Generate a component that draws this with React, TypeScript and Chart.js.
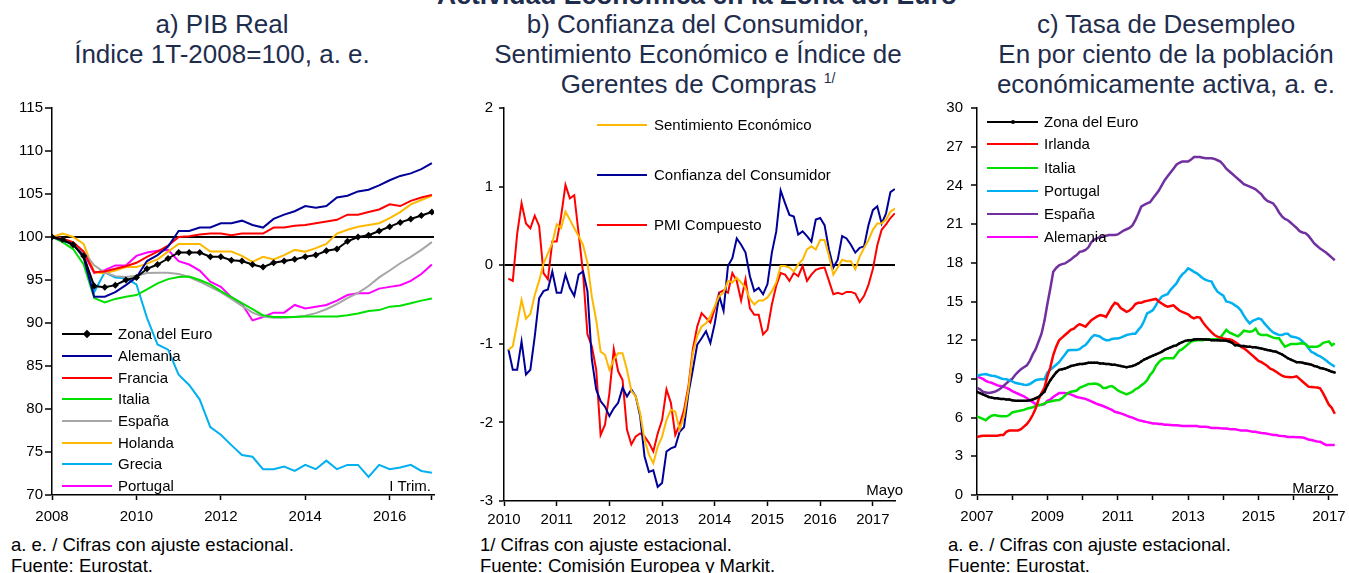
import React, { useEffect, useRef } from "react";
import { Chart, registerables } from "chart.js";
Chart.register(...registerables);

const FONT = "'Liberation Sans', Arial, Helvetica, sans-serif";
const TITLE_COLOR = "#1f2d4d";

// ---------------- Panel a: PIB Real (quarterly, 2008T1..2017T1) ----------------
const pibStartYear = 2008;
const pibEuro = [100, 99.7, 99.1, 97.8, 94.3, 94.15, 94.4, 95.0, 95.3, 96.3, 96.8, 97.5, 98.2, 98.2, 98.2, 97.7, 97.7, 97.3, 97.2, 96.8, 96.5, 97.0, 97.2, 97.4, 97.7, 97.9, 98.4, 98.6, 99.5, 100.0, 100.2, 100.7, 101.2, 101.7, 102.1, 102.5, 102.9];
const pibAlemania = [100, 99.6, 99.2, 97.6, 93.05, 93.05, 93.6, 94.4, 95.3, 97.2, 97.9, 98.9, 100.7, 100.7, 101.1, 101.1, 101.6, 101.6, 101.9, 101.4, 101.1, 102.1, 102.6, 103.0, 103.6, 103.4, 103.6, 104.6, 104.8, 105.3, 105.5, 106.0, 106.6, 107.1, 107.4, 107.9, 108.6];
const pibFrancia = [100, 99.8, 99.4, 98.3, 95.9, 96.0, 96.3, 96.6, 97.0, 97.7, 98.3, 99.0, 100.0, 100.1, 100.3, 100.4, 100.4, 100.2, 100.4, 100.4, 100.4, 101.1, 101.1, 101.3, 101.4, 101.6, 101.8, 102.0, 102.6, 102.6, 102.9, 103.2, 103.8, 103.6, 104.2, 104.6, 104.9];
const pibItalia = [100, 99.4, 98.6, 96.8, 92.9, 92.4, 92.8, 93.05, 93.25, 93.9, 94.6, 95.1, 95.35, 95.4, 95.0, 94.5, 93.7, 93.0, 92.3, 91.6, 90.9, 90.7, 90.7, 90.7, 90.75, 90.75, 90.75, 90.75, 90.9, 91.1, 91.4, 91.5, 91.9, 92.0, 92.3, 92.6, 92.85];
const pibEspana = [100, 99.9, 99.3, 98.3, 96.7, 95.85, 95.45, 95.35, 95.5, 95.8, 95.85, 95.85, 95.7, 95.35, 94.8, 94.2, 93.6, 92.8, 92.0, 91.2, 90.75, 90.6, 90.6, 90.7, 90.85, 91.15, 91.6, 92.2, 92.9, 93.5, 94.3, 95.3, 96.1, 96.95, 97.7, 98.5, 99.4];
const pibHolanda = [100, 100.4, 100.0, 99.2, 95.9, 95.8, 96.1, 96.5, 96.5, 96.9, 97.4, 98.3, 99.2, 99.2, 99.2, 98.3, 98.3, 98.3, 97.8, 97.1, 97.7, 97.4, 97.9, 98.5, 98.3, 98.7, 99.2, 100.4, 100.85, 101.2, 101.4, 101.6, 102.2, 102.9, 103.8, 104.3, 104.8];
const pibGrecia = [100, 99.6, 99.1, 97.9, 93.6, 95.9, 95.3, 95.2, 94.5, 90.6, 87.5, 86.9, 84.0, 82.8, 81.1, 77.9, 77.0, 75.8, 74.65, 74.45, 73.0, 73.0, 73.3, 72.8, 73.5, 73.0, 74.0, 73.0, 73.5, 73.5, 72.1, 73.5, 73.0, 73.2, 73.5, 72.8, 72.6];
const pibPortugal = [100, 99.6, 99.2, 98.1, 95.8, 96.15, 96.7, 96.7, 97.8, 98.2, 98.4, 98.5, 97.2, 96.8, 96.1, 94.8, 94.2, 93.0, 92.2, 90.3, 90.7, 91.2, 91.2, 92.1, 91.7, 91.9, 92.1, 92.6, 93.25, 93.45, 93.45, 94.0, 94.2, 94.4, 94.9, 95.7, 96.8];
const pibYTicks = [70, 75, 80, 85, 90, 95, 100, 105, 110, 115];
const pibXTicks = [2008, 2010, 2012, 2014, 2016, 2017];
const pibXLabels = ["2008", "2010", "2012", "2014", "2016", ""];

// ---------------- Panel b: confidence indices (monthly, Jan 2010..May 2017) ----------------
const confStartYear = 2010;
const confSentimiento = [
  -1.08, -1.03, -0.74, -0.44, -0.68, -0.62, -0.38, -0.2, 0.02, 0.15, 0.28, 0.52,
  0.47, 0.68, 0.58, 0.47, 0.37, 0.26, 0.03, -0.4, -0.7, -1.1, -1.14, -1.33,
  -1.2, -1.12, -1.12, -1.33, -1.6, -1.67, -1.88, -2.22, -2.41, -2.52, -2.31, -2.18,
  -1.97, -1.84, -1.86, -2.09, -1.92, -1.58, -1.12, -0.9, -0.78, -0.74, -0.65, -0.52,
  -0.39, -0.35, -0.2, -0.22, -0.16, -0.22, -0.29, -0.43, -0.5, -0.45, -0.45, -0.41,
  -0.33, -0.22, -0.01, -0.01, -0.03, -0.08, 0.01, 0.07, 0.2, 0.24, 0.2, 0.32,
  0.32, 0.12, -0.12, -0.03, 0.07, 0.05, 0.05, -0.05, 0.11, 0.22, 0.32, 0.45,
  0.53, 0.53, 0.58, 0.68, 0.72,
];
const confConsumidor = [
  -1.07, -1.33, -1.33, -0.97, -1.39, -1.33, -0.91, -0.42, -0.33, -0.31, -0.08, -0.35,
  -0.35, -0.12, -0.29, -0.39, -0.12, -0.08, -0.33, -1.2, -1.58, -1.73, -1.8, -1.92,
  -1.82, -1.75, -1.56, -1.67, -1.58, -1.67, -1.92, -2.43, -2.63, -2.61, -2.82, -2.77,
  -2.37, -2.33, -2.31, -2.12, -2.06, -1.63, -1.33, -1.01, -0.93, -0.84, -0.99, -0.74,
  -0.39, -0.58, -0.01, 0.09, 0.34, 0.26, 0.16, -0.14, -0.33, -0.29, -0.37, -0.24,
  0.16, 0.43, 0.95, 0.79, 0.64, 0.62, 0.39, 0.43, 0.37, 0.3, 0.58, 0.6,
  0.51, 0.2, -0.03, 0.07, 0.37, 0.34, 0.26, 0.16, 0.22, 0.24, 0.51, 0.7,
  0.75, 0.53, 0.66, 0.93, 0.97,
];
const confPMI = [
  -0.17, -0.2, 0.4, 0.79, 0.53, 0.47, 0.63, 0.5, -0.1, -0.18, 0.3, 0.3,
  0.62, 1.02, 0.85, 0.89, 0.4, -0.1, -0.88, -1.03, -1.33, -2.16, -2.03, -1.63,
  -1.07, -1.35, -1.46, -2.09, -2.28, -2.18, -2.14, -2.18, -2.26, -2.37, -2.14, -1.97,
  -1.58, -1.75, -2.16, -2.03, -1.84, -1.54, -1.07, -0.78, -0.61, -0.67, -0.73, -0.55,
  -0.35, -0.32, -0.35, -0.1, -0.2, -0.45, -0.18, -0.55, -0.63, -0.63, -0.88, -0.82,
  -0.5, -0.26, -0.1, -0.12, -0.2, -0.1, -0.14, -0.01, -0.2, -0.12, -0.06, -0.04,
  -0.03, -0.2, -0.37, -0.35, -0.37, -0.34, -0.34, -0.36, -0.47, -0.39, -0.25, -0.05,
  0.25, 0.45, 0.52, 0.6, 0.66,
];
const confYTicks = [-3, -2, -1, 0, 1, 2];
const confXTicks = [2010, 2011, 2012, 2013, 2014, 2015, 2016, 2017];
const confXLabels = ["2010", "2011", "2012", "2013", "2014", "2015", "2016", "2017"];

// ---------------- Panel c: unemployment (monthly, Jan 2007..Mar 2017) ----------------
const unempStartYear = 2007;
const unempEuro = [
  8.0, 7.9, 7.8, 7.7, 7.6, 7.55, 7.5, 7.5, 7.45, 7.45, 7.4, 7.4,
  7.35, 7.3, 7.3, 7.3, 7.3, 7.3, 7.35, 7.4, 7.5, 7.6, 7.8, 8.0,
  8.5, 8.9, 9.2, 9.5, 9.7, 9.75, 9.8, 9.9, 10.0, 10.05, 10.1, 10.15,
  10.15, 10.2, 10.25, 10.25, 10.25, 10.25, 10.2, 10.2, 10.15, 10.15, 10.1, 10.1,
  10.05, 10.0, 9.95, 9.9, 9.95, 10.0, 10.08, 10.2, 10.35, 10.5, 10.6, 10.7,
  10.8, 10.9, 11.0, 11.1, 11.25, 11.35, 11.45, 11.55, 11.6, 11.75, 11.85, 11.95,
  12.0, 12.0, 12.05, 12.07, 12.07, 12.07, 12.05, 12.05, 12.0, 12.0, 12.0, 11.98,
  11.98, 11.96, 11.9, 11.8, 11.6, 11.6, 11.55, 11.55, 11.5, 11.5, 11.45, 11.45,
  11.4, 11.35, 11.3, 11.24, 11.2, 11.15, 11.1, 11.0, 10.9, 10.75, 10.6, 10.5,
  10.4, 10.3, 10.3, 10.25, 10.2, 10.15, 10.1, 10.0, 9.95, 9.85, 9.8, 9.74,
  9.65, 9.55, 9.5,
];
const unempIrlanda = [
  4.5, 4.55, 4.6, 4.6, 4.6, 4.6, 4.6, 4.6, 4.65, 4.65, 4.9, 5.0,
  5.0, 5.0, 5.0, 5.1, 5.3, 5.5, 5.8, 6.2, 6.7, 7.4, 7.9, 8.3,
  9.2, 9.9, 10.85, 11.5, 12.0, 12.2, 12.4, 12.6, 12.8, 12.9, 13.1, 13.25,
  13.15, 13.05, 13.3, 13.55, 13.7, 13.85, 13.95, 13.9, 13.8, 14.2, 14.6, 14.9,
  14.8, 14.5, 14.35, 14.2, 14.3, 14.5, 14.8, 14.9, 14.9, 15.0, 15.05, 15.1,
  15.15, 15.2, 15.0, 14.85, 14.7, 14.6, 14.65, 14.7, 14.5, 14.3, 14.2, 14.1,
  14.0, 13.8, 13.7, 13.8, 13.75, 13.4, 13.1, 12.85, 12.6, 12.4, 12.27, 12.2,
  12.14, 12.1, 12.07, 12.0, 11.85, 11.7, 11.5, 11.37, 11.2, 11.0, 10.8, 10.6,
  10.4, 10.3, 10.15, 10.0, 9.8, 9.7, 9.56, 9.4, 9.25, 9.17, 9.15, 9.12,
  9.15, 9.2, 9.0, 8.8, 8.6, 8.4, 8.38, 8.35, 8.33, 8.27, 7.9, 7.45,
  7.0, 6.75, 6.3,
];
const unempItalia = [
  6.1, 6.0, 5.9, 5.8, 6.0, 6.15, 6.2, 6.15, 6.1, 6.1, 6.1, 6.2,
  6.4, 6.45, 6.5, 6.55, 6.6, 6.7, 6.75, 6.8, 6.9, 6.95, 7.0, 7.1,
  7.2, 7.25, 7.3, 7.35, 7.36, 7.5, 7.7, 7.9, 8.0, 8.05, 8.1, 8.3,
  8.4, 8.5, 8.6, 8.6, 8.65, 8.6, 8.5, 8.3, 8.3, 8.4, 8.45, 8.3,
  8.1, 8.0, 7.9, 7.8, 7.9, 8.0, 8.2, 8.3, 8.5, 8.65, 8.9, 9.3,
  9.56, 10.0, 10.3, 10.5, 10.6, 10.6, 10.6, 10.6, 10.9, 11.2, 11.3, 11.5,
  11.7, 11.9, 11.96, 12.0, 12.0, 12.0, 12.05, 12.05, 12.07, 12.07, 12.1, 12.2,
  12.5, 12.8, 12.6, 12.5, 12.4, 12.3, 12.5, 12.74, 12.7, 12.66, 12.7, 12.9,
  12.5, 12.4, 12.4, 12.4, 12.3, 12.2, 12.15, 12.15, 11.8, 11.5, 11.6, 11.7,
  11.7, 11.7, 11.75, 11.76, 11.7, 11.5, 11.5, 11.5, 11.5, 11.6, 11.8, 11.85,
  11.9, 11.6, 11.76,
];
const unempPortugal = [
  9.22, 9.3, 9.35, 9.38, 9.3, 9.25, 9.22, 9.15, 9.05, 9.0, 8.97, 8.9,
  8.8, 8.7, 8.65, 8.6, 8.55, 8.53, 8.6, 8.75, 8.9, 8.95, 8.97, 8.97,
  9.5, 9.7, 9.9, 10.1, 10.3, 10.6, 10.9, 11.2, 11.24, 11.24, 11.24, 11.3,
  11.5, 11.63, 11.9, 12.2, 12.4, 12.35, 12.27, 12.1, 12.0, 12.0, 12.1, 12.14,
  12.14, 12.2, 12.3, 12.4, 12.45, 12.5, 12.5, 12.8, 13.05, 13.5, 14.08, 14.2,
  14.34, 14.7, 15.1, 15.37, 15.5, 15.56, 15.9, 16.15, 16.4, 16.8, 17.1, 17.3,
  17.57, 17.45, 17.3, 17.18, 17.0, 16.8, 16.67, 16.6, 16.54, 16.1, 15.76, 15.6,
  15.45, 15.0, 14.95, 14.86, 14.7, 14.55, 14.3, 13.9, 13.57, 13.3, 13.5, 13.6,
  13.7, 13.6, 13.3, 13.05, 12.8, 12.6, 12.5, 12.4, 12.4, 12.5, 12.5, 12.3,
  12.25, 12.2, 12.1, 11.9, 11.7, 11.4, 11.1, 11.0, 10.85, 10.75, 10.6, 10.45,
  10.25, 10.1, 9.95,
];
const unempEspana = [
  8.3, 8.2, 8.0, 7.95, 7.9, 7.95, 8.0, 8.1, 8.25, 8.45, 8.65, 8.85,
  9.0, 9.3, 9.55, 9.75, 9.9, 10.05, 10.4, 10.9, 11.3, 11.9, 12.5, 13.5,
  14.8, 16.0, 17.3, 17.6, 17.8, 17.9, 17.95, 18.1, 18.25, 18.45, 18.6, 18.85,
  18.9, 19.0, 19.2, 19.6, 19.8, 19.9, 20.0, 20.05, 20.1, 20.15, 20.15, 20.15,
  20.2, 20.35, 20.5, 20.6, 20.7, 20.9, 21.3, 21.8, 22.35, 22.5, 22.6, 22.7,
  23.0, 23.3, 23.6, 24.0, 24.4, 24.7, 25.0, 25.3, 25.6, 25.75, 25.85, 25.85,
  25.85, 26.0, 26.2, 26.2, 26.2, 26.15, 26.1, 26.1, 26.1, 26.05, 25.95, 25.85,
  25.6, 25.3, 25.1, 24.9, 24.7, 24.5, 24.3, 24.1, 24.0, 23.9, 23.8, 23.7,
  23.5, 23.3, 23.0, 22.8, 22.7, 22.6, 22.3, 21.9, 21.6, 21.4, 21.3, 21.1,
  20.9, 20.7, 20.45, 20.35, 20.3, 20.1, 19.8, 19.5, 19.3, 19.1, 18.95, 18.8,
  18.6, 18.4, 18.2,
];
const unempAlemania = [
  9.2, 9.1, 9.0, 8.85, 8.75, 8.7, 8.6, 8.5, 8.45, 8.4, 8.3, 8.2,
  8.05, 7.95, 7.85, 7.75, 7.65, 7.5, 7.35, 7.2, 7.05, 6.98, 7.0, 7.05,
  7.3, 7.4, 7.6, 7.75, 7.9, 7.9, 7.9, 7.85, 7.8, 7.7, 7.6, 7.55,
  7.5, 7.45, 7.36, 7.25, 7.15, 7.05, 6.98, 6.9, 6.8, 6.7, 6.6, 6.45,
  6.4, 6.33, 6.25, 6.15, 6.07, 6.0, 5.9, 5.8, 5.75, 5.7, 5.65, 5.6,
  5.55, 5.55, 5.5, 5.5, 5.45, 5.45, 5.43, 5.4, 5.4, 5.38, 5.35, 5.35,
  5.35, 5.35, 5.35, 5.35, 5.3, 5.3, 5.3, 5.25, 5.2, 5.2, 5.2, 5.17,
  5.15, 5.15, 5.12, 5.1, 5.1, 5.05, 5.0, 5.0, 5.0, 4.95, 4.9, 4.9,
  4.85, 4.8, 4.78, 4.75, 4.7, 4.65, 4.65, 4.6, 4.57, 4.55, 4.5, 4.5,
  4.5, 4.48, 4.47, 4.45, 4.4, 4.3, 4.26, 4.2, 4.15, 4.13, 4.0, 3.88,
  3.88, 3.88, 3.88,
];
const unempYTicks = [0, 3, 6, 9, 12, 15, 18, 21, 24, 27, 30];
const unempXTicks = [2007, 2008, 2009, 2010, 2011, 2012, 2013, 2014, 2015, 2016, 2017];
const unempXLabels = ["2007", "", "2009", "", "2011", "", "2013", "", "2015", "", "2017"];

// ---------------- helpers ----------------
const quarterly = (start: number, n: number) => Array.from({ length: n }, (_, i) => start + i / 4);
const monthly = (start: number, n: number, off: number) => Array.from({ length: n }, (_, i) => start + (i + off) / 12);

type Series = { label: string; data: number[]; color: string; width: number; marker?: string; markerSize?: number };

type PanelSpec = {
  xs: number[];
  series: Series[];
  xMin: number; xMax: number; yMin: number; yMax: number;
  xTicks: number[]; xLabels: string[]; yTicks: number[];
  refLine?: number;
  yAxisWidth: number; xAxisHeight: number; padRight: number; padTop: number;
  xTickPad: number; yTickPad: number; xTickLen: number; yTickLen: number;
};

function makeConfig(p: PanelSpec): any {
  const tickFont = { family: FONT, size: 15 };
  return {
    type: "line",
    data: {
      datasets: p.series.map((s) => ({
        label: s.label,
        data: p.xs.map((x, i) => ({ x, y: s.data[i] })),
        borderColor: s.color,
        backgroundColor: s.color,
        borderWidth: s.width,
        pointRadius: s.marker ? s.markerSize : 0,
        pointStyle: s.marker || "circle",
        pointBorderWidth: 0,
        pointBackgroundColor: s.color,
        tension: 0,
        fill: false,
      })),
    },
    options: {
      responsive: false,
      animation: false,
      devicePixelRatio: 1,
      layout: { padding: { left: 0, right: p.padRight, top: p.padTop, bottom: 0 } },
      plugins: { legend: { display: false }, tooltip: { enabled: false }, title: { display: false } },
      scales: {
        x: {
          type: "linear",
          min: p.xMin,
          max: p.xMax,
          afterBuildTicks: (s: any) => { s.ticks = p.xTicks.map((v) => ({ value: v })); },
          afterFit: (s: any) => { s.height = p.xAxisHeight; s.paddingLeft = 0; s.paddingRight = 0; },
          ticks: {
            autoSkip: false, maxRotation: 0, minRotation: 0, padding: p.xTickPad, color: "#000", font: tickFont,
            callback: (v: number) => { const k = p.xTicks.indexOf(v); return k >= 0 ? p.xLabels[k] : ""; },
          },
          grid: { drawOnChartArea: false, drawTicks: true, tickLength: p.xTickLen, tickColor: "#000", tickWidth: 1.5, color: "#000" },
          border: { display: true, color: "#000", width: 1.5 },
        },
        y: {
          type: "linear",
          min: p.yMin,
          max: p.yMax,
          afterBuildTicks: (s: any) => { s.ticks = p.yTicks.map((v) => ({ value: v })); },
          afterFit: (s: any) => { s.width = p.yAxisWidth; s.paddingTop = 0; s.paddingBottom = 0; },
          ticks: { padding: p.yTickPad, color: "#000", font: tickFont, callback: (v: number) => String(v) },
          grid: {
            drawOnChartArea: true, drawTicks: true, tickLength: p.yTickLen, tickColor: "#000", tickWidth: 1.5,
            color: (ctx: any) => (ctx.tick && p.refLine !== undefined && ctx.tick.value === p.refLine ? "#000" : "rgba(0,0,0,0)"),
            lineWidth: (ctx: any) => (ctx.tick && p.refLine !== undefined && ctx.tick.value === p.refLine ? 2 : 0),
          },
          border: { display: true, color: "#000", width: 1.5 },
        },
      },
    },
  };
}

function ChartCanvas({ spec, left, top, width, height }: { spec: PanelSpec; left: number; top: number; width: number; height: number }) {
  const ref = useRef<HTMLCanvasElement>(null);
  useEffect(() => {
    const chart = new Chart(ref.current as HTMLCanvasElement, makeConfig(spec));
    return () => chart.destroy();
  }, []);
  return (
    <canvas ref={ref} width={width} height={height}
      style={{ position: "absolute", left, top, width, height }} />
  );
}

type LegendItem = { label: string; color: string; width: number; marker?: "diamond" | "dot" };

function Legend({ items, lineX, lineW, textX, ys }: { items: LegendItem[]; lineX: number; lineW: number; textX: number; ys: number[] }) {
  return (
    <>
      {items.map((it, i) => (
        <React.Fragment key={it.label}>
          <div style={{ position: "absolute", left: lineX, top: ys[i] - it.width / 2, width: lineW, height: it.width, background: it.color }} />
          {it.marker === "diamond" && (
            <div style={{ position: "absolute", left: lineX + lineW / 2 - 3, top: ys[i] - 3, width: 6, height: 6, background: it.color, transform: "rotate(45deg)" }} />
          )}
          {it.marker === "dot" && (
            <div style={{ position: "absolute", left: lineX + lineW / 2 - 2, top: ys[i] - 2, width: 4, height: 4, background: it.color, borderRadius: 2 }} />
          )}
          <div style={{ position: "absolute", left: textX, top: ys[i] - 9, lineHeight: "18px", fontSize: 15, color: "#000", whiteSpace: "nowrap" }}>{it.label}</div>
        </React.Fragment>
      ))}
    </>
  );
}

function Text({ x, y, children, size = 15, align = "left", color = "#000" }: any) {
  const style: any = { position: "absolute", top: y - size * 0.6, lineHeight: `${size * 1.2}px`, fontSize: size, color, whiteSpace: "nowrap" };
  if (align === "right") style.right = 1349 - x; else style.left = x;
  return <div style={style}>{children}</div>;
}

const C_EURO = "#000000";
const C_DE = "#000099";
const C_FR = "#ff0000";
const C_IT = "#00e000";
const C_ES_GRAY = "#a6a6a6";
const C_NL = "#ffb800";
const C_GR = "#00b0f0";
const C_PT = "#ff00ff";
const C_ES_PURPLE = "#7030a0";

export default function App() {
  const specA: PanelSpec = {
    xs: quarterly(pibStartYear, pibEuro.length),
    series: [
      { label: "Zona del Euro", data: pibEuro, color: C_EURO, width: 2, marker: "rectRot", markerSize: 3.5 },
      { label: "Alemania", data: pibAlemania, color: C_DE, width: 2 },
      { label: "Francia", data: pibFrancia, color: C_FR, width: 2 },
      { label: "Italia", data: pibItalia, color: C_IT, width: 2 },
      { label: "España", data: pibEspana, color: C_ES_GRAY, width: 2 },
      { label: "Holanda", data: pibHolanda, color: C_NL, width: 2 },
      { label: "Grecia", data: pibGrecia, color: C_GR, width: 2 },
      { label: "Portugal", data: pibPortugal, color: C_PT, width: 2 },
    ],
    xMin: 2008, xMax: 2017.05, yMin: 70, yMax: 115,
    xTicks: pibXTicks, xLabels: pibXLabels, yTicks: pibYTicks, refLine: 100,
    yAxisWidth: 52, xAxisHeight: 30, padRight: 11, padTop: 10,
    xTickPad: 8, yTickPad: 2, xTickLen: 5, yTickLen: 7,
  };
  const specB: PanelSpec = {
    xs: monthly(confStartYear, confPMI.length, 1),
    series: [
      { label: "Sentimiento Económico", data: confSentimiento, color: C_NL, width: 2 },
      { label: "Confianza del Consumidor", data: confConsumidor, color: C_DE, width: 2 },
      { label: "PMI Compuesto", data: confPMI, color: C_FR, width: 2 },
    ],
    xMin: 2010, xMax: 2017.42, yMin: -3, yMax: 2,
    xTicks: confXTicks, xLabels: confXLabels, yTicks: confYTicks, refLine: 0,
    yAxisWidth: 44, xAxisHeight: 29, padRight: 15, padTop: 10,
    xTickPad: 5, yTickPad: 6, xTickLen: 5, yTickLen: 5,
  };
  const specC: PanelSpec = {
    xs: monthly(unempStartYear, unempEuro.length, 0),
    series: [
      { label: "Zona del Euro", data: unempEuro, color: C_EURO, width: 2.5, marker: "circle", markerSize: 1.2 },
      { label: "Irlanda", data: unempIrlanda, color: C_FR, width: 2.5 },
      { label: "Italia", data: unempItalia, color: C_IT, width: 2.5 },
      { label: "Portugal", data: unempPortugal, color: C_GR, width: 2.5 },
      { label: "España", data: unempEspana, color: C_ES_PURPLE, width: 2.5 },
      { label: "Alemania", data: unempAlemania, color: C_PT, width: 2.5 },
    ],
    xMin: 2007, xMax: 2017.23, yMin: 0, yMax: 30,
    xTicks: unempXTicks, xLabels: unempXLabels, yTicks: unempYTicks,
    yAxisWidth: 52, xAxisHeight: 30, padRight: 12, padTop: 10,
    xTickPad: 8, yTickPad: 8, xTickLen: 5, yTickLen: 6,
  };

  const titleStyle: any = { position: "absolute", top: 9, fontSize: 26, lineHeight: "30px", color: TITLE_COLOR, textAlign: "center", whiteSpace: "nowrap" };

  return (
    <div style={{ position: "absolute", left: 0, top: 0, width: 1349, height: 573, overflow: "hidden", background: "#fff", fontFamily: FONT }}>
      <div style={{ position: "absolute", left: 297, width: 800, top: -20, fontSize: 26.5, lineHeight: "30px", fontWeight: "bold", color: TITLE_COLOR, textAlign: "center", whiteSpace: "nowrap" }}>
        Actividad Económica en la Zona del Euro
      </div>
      <div style={{ ...titleStyle, left: 2, width: 440 }}>
        a) PIB Real<br />Índice 1T-2008=100, a. e.
      </div>
      <div style={{ ...titleStyle, left: 478, width: 440 }}>
        b) Confianza del Consumidor,<br />Sentimiento Económico e Índice de<br />Gerentes de Compras <span style={{ fontSize: 14, position: "relative", top: -10 }}>1/</span>
      </div>
      <div style={{ ...titleStyle, left: 946, width: 440 }}>
        c) Tasa de Desempleo<br />En por ciento de la población<br />económicamente activa, a. e.
      </div>

      <ChartCanvas spec={specA} left={0} top={98} width={445} height={427} />
      <ChartCanvas spec={specB} left={460} top={98} width={450} height={432} />
      <ChartCanvas spec={specC} left={925} top={98} width={424} height={427} />

      <Legend
        items={[
          { label: "Zona del Euro", color: C_EURO, width: 2, marker: "diamond" },
          { label: "Alemania", color: C_DE, width: 2 },
          { label: "Francia", color: C_FR, width: 2 },
          { label: "Italia", color: C_IT, width: 2 },
          { label: "España", color: C_ES_GRAY, width: 2 },
          { label: "Holanda", color: C_NL, width: 2 },
          { label: "Grecia", color: C_GR, width: 2 },
          { label: "Portugal", color: C_PT, width: 2 },
        ]}
        lineX={62} lineW={50} textX={118}
        ys={[334, 356, 378, 399, 421, 443, 464, 486]}
      />
      <Legend
        items={[
          { label: "Sentimiento Económico", color: C_NL, width: 2 },
          { label: "Confianza del Consumidor", color: C_DE, width: 2 },
          { label: "PMI Compuesto", color: C_FR, width: 2 },
        ]}
        lineX={597} lineW={50} textX={654}
        ys={[125, 175, 225]}
      />
      <Legend
        items={[
          { label: "Zona del Euro", color: C_EURO, width: 2.5, marker: "dot" },
          { label: "Irlanda", color: C_FR, width: 2.5 },
          { label: "Italia", color: C_IT, width: 2.5 },
          { label: "Portugal", color: C_GR, width: 2.5 },
          { label: "España", color: C_ES_PURPLE, width: 2.5 },
          { label: "Alemania", color: C_PT, width: 2.5 },
        ]}
        lineX={987} lineW={51} textX={1044}
        ys={[122, 144, 168, 191, 214, 237]}
      />

      <Text x={431} y={486} align="right">I Trim.</Text>
      <Text x={903} y={490} align="right">Mayo</Text>
      <Text x={1334} y={488} align="right">Marzo</Text>

      <Text x={11} y={545} size={18.5}>a. e. / Cifras con ajuste estacional.</Text>
      <Text x={11} y={566} size={18.5}>Fuente: Eurostat.</Text>
      <Text x={480} y={545} size={18.5}>1/ Cifras con ajuste estacional.</Text>
      <Text x={480} y={566} size={18.5}>Fuente: Comisión Europea y Markit.</Text>
      <Text x={948} y={545} size={18.5}>a. e. / Cifras con ajuste estacional.</Text>
      <Text x={948} y={566} size={18.5}>Fuente: Eurostat.</Text>
    </div>
  );
}
